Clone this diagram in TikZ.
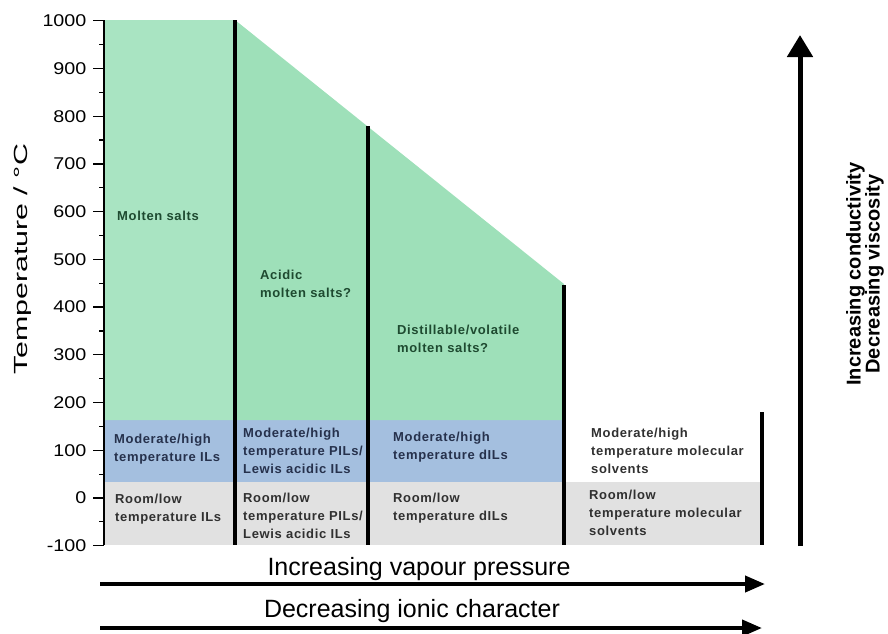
\documentclass[tikz,border=0pt]{standalone}
\usepackage{fontspec}
\setmainfont{Liberation Sans}
\usetikzlibrary{arrows.meta}
\definecolor{msalt}{HTML}{A9E4C2}
\definecolor{mgreen}{HTML}{9EE0B9}
\definecolor{mblue}{HTML}{A4BFDF}
\definecolor{mgrey}{HTML}{E1E1E1}
\definecolor{tgreen}{HTML}{1E4A30}
\definecolor{tblue}{HTML}{26314C}
\definecolor{tgrey}{HTML}{303030}
\tikzset{lb/.append style={anchor=base west,inner sep=0pt,align=left,font=\fontsize{13}{18}\selectfont\bfseries\addfontfeature{LetterSpace=5}}}
\tikzset{tl/.append style={line width=3.5pt}}
\tikzset{ar/.append style={line width=4pt,-{Triangle[length=20pt,width=16pt]}}}

\begin{document}
\begin{tikzpicture}[x=1pt,y=-1pt]
                \useasboundingbox (0,0) rectangle (888,633);
                % bands
                \fill[mgrey] (104,482) rectangle (762,545);
                \fill[mblue] (104,420) rectangle (564,482);
                \fill[mgreen] (104,20) -- (235,20) -- (564,284) -- (564,420) -- (104,420) -- cycle;
                \fill[msalt] (104,20) rectangle (235,420);
                % axis
                \draw[line width=1.2pt] (104,20) -- (104,545);
                \foreach \tc in {-100,0,...,1000}
                    \draw[line width=1.2pt] (93,{498-0.4773*\tc}) -- (104,{498-0.4773*\tc})
                        node[anchor=east,inner sep=0pt,font=\fontsize{17}{17}\selectfont] at (87,{498-0.4773*\tc}) {\scalebox{1.16}[1]{\tc}};
                \foreach \tc in {-50,50,...,950}
                    \draw[line width=1.2pt] (99,{498-0.4773*\tc}) -- (104,{498-0.4773*\tc});
                \node[rotate=90,font=\fontsize{19}{19}\selectfont] (ylab) at (23,259) {\scalebox{1.6}[1]{Temperature / °C}};
                % columns
                \draw[tl] (235,20) -- (235,545);
                \draw[tl] (368,126) -- (368,545);
                \draw[tl] (564,285) -- (564,545);
                \draw[tl] (762,412) -- (762,545);
                % base = last line
                \node[lb,tgreen] (ms) at (117,220) {Molten salts};
                \node[lb,tgreen] (ams) at (260,297) {Acidic\\molten salts?};
                \node[lb,tgreen] (dms) at (397,352) {Distillable/volatile\\molten salts?};
                \node[lb,tblue] (hil) at (114,461) {Moderate/high\\temperature ILs};
                \node[lb,tblue] (hpil) at (243,473) {Moderate/high\\temperature PILs/\\Lewis acidic ILs};
                \node[lb,tblue] (hdil) at (393,459) {Moderate/high\\temperature dILs};
                \node[lb,tgrey] (hmol) at (591,473) {Moderate/high\\temperature molecular\\solvents};
                \node[lb,tgrey] (ril) at (115,521) {Room/low\\temperature ILs};
                \node[lb,tgrey] (rpil) at (243,538) {Room/low\\temperature PILs/\\Lewis acidic ILs};
                \node[lb,tgrey] (rdil) at (393,520) {Room/low\\temperature dILs};
                \node[lb,tgrey] (rmol) at (589,535) {Room/low\\temperature molecular\\solvents};
                % trends
                \node[anchor=base,font=\fontsize{25}{25}\selectfont] (vp) at (419,575) {Increasing vapour pressure};
                \node[anchor=base,font=\fontsize{25}{25}\selectfont] (ic) at (412,617) {Decreasing ionic character};
                \draw[ar] (100,584) -- (765,584);
                \draw[ar] (100,628) -- (762,628);
                \draw[line width=5pt,-{Triangle[length=22pt,width=25pt]}] (800,546) -- (800,35);
                \node[rotate=90,align=center,font=\fontsize{20}{19}\selectfont\bfseries] (cv) at (865,274) {Increasing conductivity\\Decreasing viscosity};
            \end{tikzpicture}
\end{document}
